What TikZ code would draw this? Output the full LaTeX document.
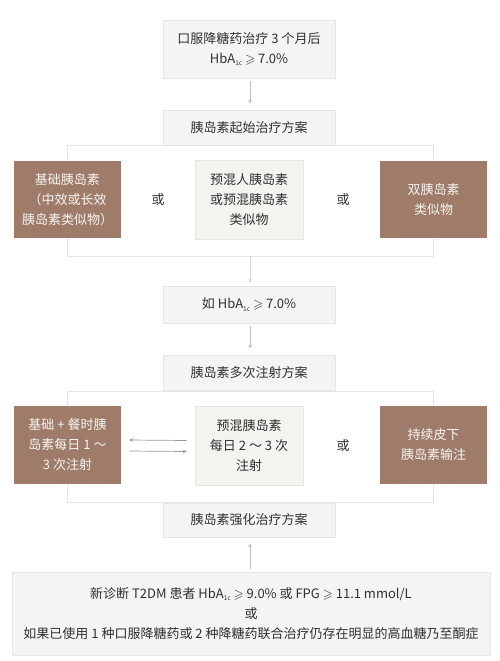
\documentclass[tikz,border=0pt]{standalone}
\usepackage{amssymb}
\usepackage{fontspec}
\setmainfont{Noto Sans CJK SC}
\usetikzlibrary{arrows.meta}

\definecolor{boxgray}{HTML}{F4F4F4}
\definecolor{boxline}{HTML}{E6E6E6}
\definecolor{warmgray}{HTML}{F5F3F0}
\definecolor{brown}{HTML}{9F7C69}
\definecolor{textdark}{HTML}{303030}
\definecolor{arrowgray}{HTML}{BDBDBD}

\newcommand{\hba}{HbA\raisebox{-2.5pt}{\fontsize{6.5pt}{6.5pt}\selectfont 1c}}
\newcommand{\gs}{$\geqslant$}

\tikzset{
  stage/.style={fill=boxgray, draw=boxline, line width=0.6pt, text=textdark,
                align=center, inner sep=0pt},
  panel/.style={fill=white, draw=boxline, line width=0.6pt},
  choice/.style={fill=warmgray, draw=boxline, line width=0.6pt, text=textdark,
                 align=center, inner sep=0pt, minimum width=108pt, minimum height=79pt},
  pick/.style={fill=brown, text=white!92!brown, align=center, inner sep=0pt,
               minimum width=107pt, minimum height=77pt},
  ortext/.style={text=textdark},
  flow/.style={draw=arrowgray, line width=0.6pt, -{Stealth[length=4pt,width=3.5pt]}},
  swap/.style={flow, draw=arrowgray!80!black, line width=0.7pt}
}

\begin{document}
\begin{tikzpicture}[x=1pt, y=-1pt, font=\fontsize{13pt}{20pt}\selectfont]
\useasboundingbox (0,0) rectangle (500,661);
        % Step 1: oral drugs fail
        \node[stage, minimum width=172pt, minimum height=58pt] at (249, 49) (oral)
            {口服降糖药治疗 3 个月后\\\hba{} \gs{} 7.0\%};
        \node[stage, minimum width=172pt, minimum height=35pt] at (249, 127.5) (start)
            {胰岛素起始治疗方案};
        % First panel
        \node[panel, minimum width=366pt, minimum height=111pt] at (250, 200.5) (panelA) {};
        \node[pick] at (67.5, 199.5) (basal) {基础胰岛素\\（中效或长效\\胰岛素类似物）};
        \node[choice] at (249, 199.5) (premix) {预混人胰岛素\\或预混胰岛素\\类似物};
        \node[pick] at (433.5, 199.5) (dual) {双胰岛素\\类似物};
        \node[ortext] at (158, 200) (orA) {或};
        \node[ortext] at (343, 200) (orB) {或};
        % Step 2
        \node[stage, minimum width=172pt, minimum height=37pt] at (249, 304.5) (again)
            {如 \hba{} \gs{} 7.0\%};
        \node[stage, minimum width=172pt, minimum height=35pt] at (249, 372.5) (multi)
            {胰岛素多次注射方案};
        % Second panel
        \node[panel, minimum width=366pt, minimum height=111pt] at (250, 446.5) (panelB) {};
        \node[pick, minimum height=78pt] at (67.5, 445) (basbol) {基础 + 餐时胰\\岛素每日 1 ～\\3 次注射};
        \node[choice] at (249, 445.5) (premixB) {预混胰岛素\\每日 2 ～ 3 次\\注射};
        \node[pick, minimum height=78pt] at (433.5, 445) (csii) {持续皮下\\胰岛素输注};
        \node[ortext] at (343, 446) (orC) {或};
        % Intensive
        \node[stage, minimum width=172pt, minimum height=34pt] at (249, 520) (intens)
            {胰岛素强化治疗方案};
        % New diagnosis
        \node[stage, minimum width=478pt, minimum height=83pt] at (251, 613.5) (newdx)
            {新诊断 T2DM 患者 \hba{} \gs{} 9.0\% 或 FPG \gs{} 11.1 mmol/L\\或\\如果已使用 1 种口服降糖药或 2 种降糖药联合治疗仍存在明显的高血糖乃至酮症};
        % Connect the boxes
        \draw[flow, shorten <=3pt, shorten >=6pt] (oral.south -| 250,0) -- (start.north -| 250,0);
        \draw[flow, draw=arrowgray!60, shorten >=3pt] (panelA.south) -- (again.north -| 250,0);
        \draw[flow, shorten <=3pt, shorten >=6pt] (again.south -| 250,0) -- (multi.north -| 250,0);
        \draw[flow, shorten <=3pt, shorten >=6pt] (newdx.north -| 250,0) -- (intens.south -| 250,0);
        \draw[swap] ([xshift=-8pt, yshift=5pt]premixB.west) -- ([xshift=8pt, yshift=5pt]basbol.east);
        \draw[swap] ([xshift=8pt, yshift=-6pt]basbol.east) -- ([xshift=-8pt, yshift=-6pt]premixB.west);
\end{tikzpicture}
\end{document}
